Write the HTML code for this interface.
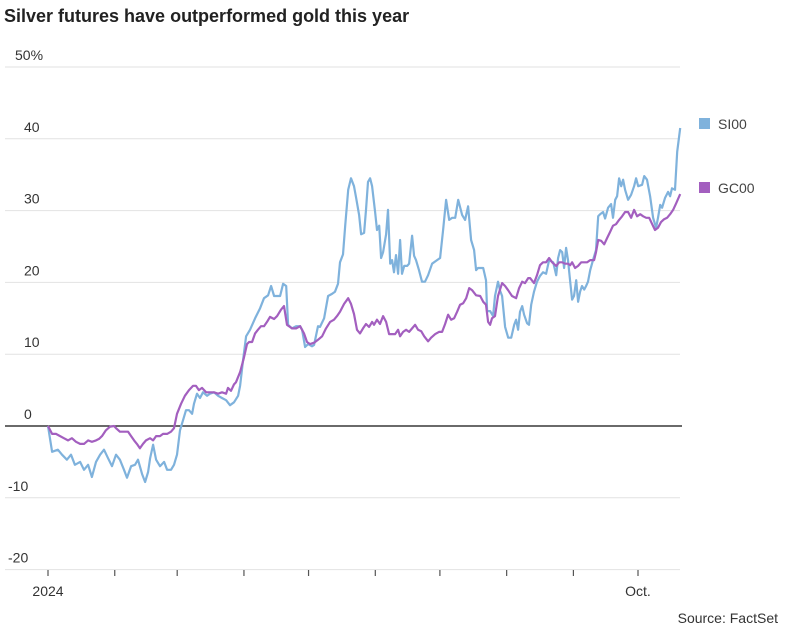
<!DOCTYPE html>
<html><head><meta charset="utf-8">
<style>
html,body{margin:0;padding:0;background:#fff;}
body{width:786px;height:631px;overflow:hidden;font-family:"Liberation Sans",sans-serif;}
</style></head>
<body>
<svg id="chart" width="786" height="631" xmlns="http://www.w3.org/2000/svg" font-family="Liberation Sans, sans-serif">
<text x="4" y="22" font-size="18" font-weight="bold" fill="#222">Silver futures have outperformed gold this year</text>
<g id="grid"></g>
<g id="series"></g>
<g>
<rect x="699" y="118" width="11" height="11" fill="#7fb2dc"/>
<text x="718" y="129" font-size="14" fill="#444">SI00</text>
<rect x="699" y="182" width="11" height="11" fill="#a35fbf"/>
<text x="718" y="193" font-size="14" fill="#444">GC00</text>
</g>
<text x="778" y="623" text-anchor="end" font-size="14" fill="#333">Source: FactSet</text>
</svg>
<script>
const yTicks=[50,40,30,20,10,0,-10,-20];
const yTickLabels=["50%","40","30","20","10","0","-10","-20"];
const monthDays=[0,31,60,91,121,152,182,213,244,274];
const xTickLabels=["2024","","","","","","","","","Oct."];
const siDays=[0,1.9,4.6,6.5,8.8,10.7,12.5,14.9,16.7,18.6,20.4,22.3,24.2,26.0,27.9,29.7,31.6,33.4,35.3,36.7,38.6,40.4,41.8,43.7,45.1,46.5,47.4,48.8,50.2,52.0,53.9,55.3,57.1,58.5,59.9,61.3,62.7,64.1,65.5,66.9,67.8,69.2,70.6,72.0,73.9,75.2,77.1,79.0,80.8,82.7,84.5,86.4,88.3,89.2,90.6,92.0,93.8,96.2,98.5,100.3,102.2,103.6,105.0,107.8,109.2,110.6,111.5,113.3,115.2,117.1,118.0,119.4,120.8,122.6,123.6,125.4,126.3,128.2,130.1,131.9,133.3,134.7,135.6,137.0,138.0,139.4,140.7,142.1,143.1,144.5,145.4,146.8,147.7,148.6,149.6,150.5,151.9,152.8,153.8,154.7,155.6,157.0,157.9,158.9,159.8,160.7,161.6,162.6,163.5,164.4,165.4,166.8,167.7,169.1,170.0,170.9,172.3,173.7,175.1,176.5,178.4,180.2,182.1,183.5,184.9,186.3,187.7,189.1,190.5,192.3,193.7,195.1,196.5,197.9,198.8,199.7,202.1,203.4,203.9,205.3,206.7,207.6,209.0,210.0,210.9,212.3,213.7,215.1,216.5,217.4,218.3,219.2,220.2,221.1,222.5,223.4,224.4,225.7,227.1,228.5,229.9,231.3,232.7,234.6,236.0,236.9,237.8,238.8,239.7,240.6,241.5,242.5,243.4,244.3,245.3,246.2,247.1,248.0,249.0,249.9,250.8,251.8,253.1,254.5,255.5,256.4,257.8,258.7,260.1,261.5,262.4,263.4,264.3,265.2,266.2,267.1,268.0,269.4,270.8,272.2,273.1,274.1,275.9,276.9,278.2,279.6,281.0,282.4,283.3,284.3,285.2,286.6,288.0,288.9,289.8,291.2,292.2,293.6];
const siValues=[0,-3.6,-3.3,-4.0,-4.7,-4.0,-5.4,-5.0,-6.1,-5.4,-7.1,-5.0,-4.0,-3.3,-4.5,-5.6,-4.0,-4.7,-6.1,-7.2,-5.6,-5.4,-4.7,-6.7,-7.8,-6.4,-4.5,-2.6,-4.7,-5.6,-5.0,-6.1,-6.1,-5.4,-4.0,-0.6,0.8,2.2,2.2,1.7,3.1,4.5,3.9,4.7,4.2,4.5,4.7,4.2,3.9,3.6,2.9,3.3,4.2,5.6,9.2,12.5,13.4,15.0,16.4,17.8,18.2,19.5,18.1,18.1,19.8,19.5,14.1,13.6,13.9,13.9,13.4,11.0,11.4,11.1,11.3,13.9,13.8,15.0,18.1,18.4,18.7,19.8,22.8,23.9,27.9,32.9,34.5,33.4,31.8,29.4,26.7,26.9,30.1,34.0,34.5,33.4,29.8,27.3,27.9,23.4,24.2,26.7,30.1,22.6,23.1,21.4,23.8,21.2,25.9,21.2,22.3,22.3,22.6,26.5,23.7,23.1,21.7,20.1,20.1,21.0,22.6,23.0,23.4,27.3,31.5,28.7,29.0,29.0,31.5,29.4,28.7,30.6,25.9,24.5,21.7,22.0,22.0,20.3,16.0,16.0,15.3,18.1,20.1,18.8,18.1,13.8,12.3,12.3,14.1,14.8,13.4,15.9,16.7,15.5,14.3,14.1,16.9,18.7,20.1,20.9,21.4,21.2,23.1,22.8,21.0,23.4,24.5,24.2,22.0,24.8,23.1,20.1,17.6,18.1,20.3,17.3,18.7,19.5,19.0,19.5,20.1,21.7,23.1,24.5,29.2,29.5,29.8,28.9,30.4,30.9,29.0,31.5,32.0,34.5,33.4,34.3,32.9,31.5,32.2,33.4,34.5,33.4,33.6,34.8,34.3,32.0,29.0,27.6,29.0,30.8,30.4,31.8,32.6,32.0,33.1,32.9,38.2,41.5];
const gcDays=[0,1.9,3.7,5.6,7.4,9.3,11.1,13.0,14.9,16.7,18.6,20.4,22.3,23.7,25.1,26.9,28.8,30.7,31.6,33.4,35.3,37.2,38.6,40.0,41.3,42.7,44.1,45.5,47.4,48.8,50.2,52.0,53.4,55.3,57.1,58.5,59.9,61.8,63.6,65.5,67.4,68.7,70.1,71.5,73.4,75.2,77.1,79.0,80.8,82.7,83.6,85.0,86.4,87.3,89.2,91.0,92.4,93.4,94.8,96.2,97.5,98.9,100.3,101.7,103.1,105.0,106.4,108.2,109.6,111.0,113.3,115.2,117.1,118.9,120.3,121.7,123.6,125.4,127.3,129.1,131.0,132.8,134.2,135.6,137.5,139.4,140.7,142.1,143.5,144.9,146.3,147.7,149.1,150.5,151.4,152.8,154.2,155.6,157.0,158.4,159.8,161.2,162.6,163.5,164.9,166.3,167.7,169.1,170.5,171.9,173.3,174.7,176.5,177.9,179.8,181.6,183.0,184.4,185.8,187.2,188.6,190.0,191.4,192.8,194.2,195.6,197.0,198.8,200.7,202.1,203.4,204.4,205.3,206.2,207.6,209.0,210.9,212.3,213.7,215.5,217.4,218.8,220.2,221.5,223.0,223.9,225.7,227.1,228.5,229.9,231.3,232.7,234.1,236.0,237.4,238.8,240.1,241.5,242.5,243.4,244.8,246.2,247.6,249.0,250.4,251.8,253.6,254.5,255.5,256.9,258.3,259.7,261.0,262.4,263.8,265.2,266.6,268.0,269.4,270.8,272.2,273.6,275.0,276.4,277.8,279.2,280.6,281.9,283.3,284.7,286.1,287.5,288.9,290.3,291.7,293.6];
const gcValues=[0,-1.1,-1.1,-1.4,-1.7,-2.0,-1.7,-2.2,-2.5,-2.5,-2.0,-2.2,-2.0,-1.8,-1.4,-0.6,-0.1,0,-0.3,-0.8,-0.8,-0.8,-1.4,-2.0,-2.5,-3.1,-2.5,-2.0,-1.7,-2.0,-1.4,-1.4,-1.1,-1.1,-0.8,-0.3,1.7,3.1,4.2,5.0,5.6,5.6,5.0,5.3,4.7,4.7,4.7,4.5,4.7,4.5,5.3,4.9,5.8,6.1,7.5,9.5,11.4,11.7,11.7,12.9,13.4,13.9,13.9,14.5,15.2,14.9,15.3,16.2,16.7,14.1,13.6,13.6,13.9,12.9,11.7,11.4,11.6,12.0,12.5,13.6,14.5,14.8,15.3,15.9,17.0,17.8,17.0,15.6,13.4,12.9,13.6,14.2,13.8,14.5,14.1,14.8,14.2,15.3,14.5,12.8,12.8,12.8,13.4,12.5,13.1,13.4,13.1,13.6,14.1,13.4,13.2,12.5,11.8,12.3,12.8,13.1,13.1,14.2,15.5,14.8,15.0,15.9,16.9,17.1,17.8,19.2,18.9,18.2,18.1,17.3,16.9,14.5,14.1,15.0,15.3,18.1,19.9,19.5,18.9,18.1,17.8,19.2,20.1,19.9,20.6,20.6,19.9,21.0,22.4,22.8,22.8,23.4,22.8,22.3,22.8,22.8,22.6,22.6,22.4,22.8,22.0,22.3,22.8,22.8,22.8,23.1,23.1,24.2,25.9,25.8,25.3,26.2,27.0,27.9,28.1,28.7,29.2,29.8,29.8,29.0,30.1,29.2,29.5,29.2,29.0,29.0,28.1,27.3,27.6,28.4,28.8,29.0,29.5,30.1,31.0,32.3];

const NS="http://www.w3.org/2000/svg";
const X0=48, XPD=(638-48)/274;
const Y0=426, YPU=7.18;
function xScale(d){return X0+d*XPD;}
function yScale(v){return Y0-v*YPU;}
const grid=document.getElementById('grid');
yTicks.forEach((t,i)=>{
  const y=yScale(t);
  const ln=document.createElementNS(NS,'line');
  
  
  ln.setAttribute('x1',5);ln.setAttribute('x2',t===0?682:680);
  ln.setAttribute('y1',y);ln.setAttribute('y2',y);
  ln.setAttribute('stroke',t===0?'#111':'#e2e2e2');
  ln.setAttribute('stroke-width',t===0?1.3:1);
  grid.appendChild(ln);
  const tx=document.createElementNS(NS,'text');
  
  
  tx.setAttribute('x', t===50?15:(t<0?8:24));
  tx.setAttribute('y',y-7);
  tx.setAttribute('font-size',14);tx.setAttribute('fill','#333');
  tx.textContent=yTickLabels[i];
  grid.appendChild(tx);
});
monthDays.forEach((d,i)=>{
  const x=xScale(d);
  const tk=document.createElementNS(NS,'line');
  
  
  tk.setAttribute('x1',x);tk.setAttribute('x2',x);
  tk.setAttribute('y1',570);tk.setAttribute('y2',576);
  tk.setAttribute('stroke','#555');tk.setAttribute('stroke-width',1.2);
  grid.appendChild(tk);
  if(xTickLabels[i]){
    const tx=document.createElementNS(NS,'text');
    
    
    tx.setAttribute('x',x);tx.setAttribute('y',596);
    tx.setAttribute('text-anchor','middle');
    tx.setAttribute('font-size',14);tx.setAttribute('fill','#333');
    tx.textContent=xTickLabels[i];
    grid.appendChild(tx);
  }
});
const series=document.getElementById('series');
function drawLine(days,vals,color,name){
  const p=document.createElementNS(NS,'path');
  
  
  p.setAttribute('d',days.map((d,i)=>(i?'L':'M')+xScale(d).toFixed(1)+','+yScale(vals[i]).toFixed(1)).join(''));
  p.setAttribute('fill','none');p.setAttribute('stroke',color);
  p.setAttribute('stroke-width',2.2);p.setAttribute('stroke-linejoin','round');
  series.appendChild(p);
}
drawLine(siDays,siValues,'#7fb2dc','si00-line');
drawLine(gcDays,gcValues,'#a35fbf','gc00-line');
</script>
</body></html>
